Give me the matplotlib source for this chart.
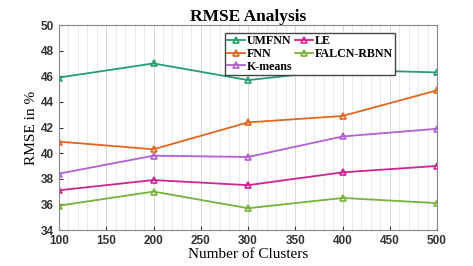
import matplotlib.pyplot as plt
from matplotlib.ticker import MultipleLocator

clusters = [100, 200, 300, 400, 500]
umfnn = [45.9, 47.0, 45.7, 46.5, 46.3]
fnn = [40.9, 40.3, 42.4, 42.9, 44.9]
kmeans = [38.4, 39.8, 39.7, 41.3, 41.9]
le = [37.1, 37.9, 37.5, 38.5, 39.0]
falcn = [35.9, 37.0, 35.7, 36.5, 36.1]

series = [
    ('UMFNN', umfnn, '#23a06c'),
    ('FNN', fnn, '#e2661f'),
    ('K-means', kmeans, '#b25fd4'),
    ('LE', le, '#cf2393'),
    ('FALCN-RBNN', falcn, '#77b23a'),
]

fig = plt.figure(figsize=(4.73, 2.66), dpi=100)
ax = fig.add_axes([0.1247, 0.1353, 0.7993, 0.7707])

for name, vals, col in series:
    ax.plot(clusters, vals, '-^', color=col, lw=1.3, ms=5, mfc='none',
            mew=1.2, label=name)

ax.set_xlim(100, 500)
ax.set_ylim(34, 50)
ax.set_yticks(range(34, 51, 2))
ax.xaxis.set_minor_locator(MultipleLocator(10))
ax.grid(axis='x', which='minor', color='#e6e6e6', lw=0.6)
ax.grid(axis='x', which='major', color='#d9d9d9', lw=0.7)
ax.tick_params(which='minor', length=0)
ax.tick_params(labelsize=8.5, colors='#333333', length=3, direction='in')
for lab in ax.get_xticklabels() + ax.get_yticklabels():
    lab.set_fontfamily('Liberation Sans')
    lab.set_fontweight('bold')
for s in ax.spines.values():
    s.set_color('#888888')

ax.set_title('RMSE Analysis', fontfamily='Liberation Serif', fontweight='bold',
             fontsize=12.5, pad=3)
ax.set_xlabel('Number of Clusters', fontfamily='Liberation Serif', fontsize=11,
              labelpad=1)
ax.set_ylabel('RMSE in %', fontfamily='Liberation Serif', fontsize=11,
              labelpad=2)

ax.legend(ncol=2, loc='upper right', bbox_to_anchor=(0.905, 0.99),
          prop={'family': 'Liberation Serif', 'weight': 'bold', 'size': 8.6},
          handlelength=1.5, handletextpad=0.15, columnspacing=0.2,
          labelspacing=0.05, borderpad=0.2, fancybox=False, edgecolor='#444444',
          framealpha=1)

plt.savefig('out.png', dpi=100)
